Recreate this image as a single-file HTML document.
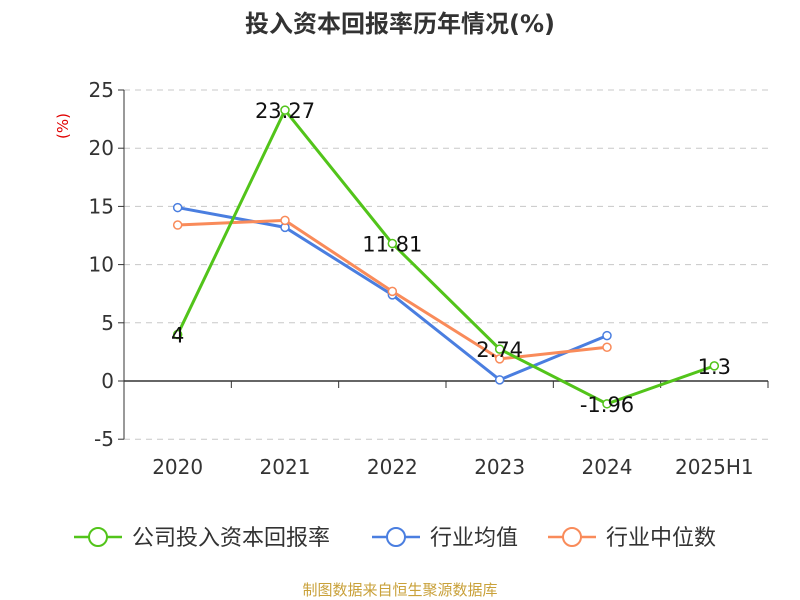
<!DOCTYPE html>
<html><head><meta charset="utf-8"><style>
body{margin:0;background:#fff;}
svg{display:block;font-family:"DejaVu Sans","Noto Sans CJK SC",sans-serif;}
</style></head><body>
<svg id="chart" width="800" height="600">
<text x="400" y="32" text-anchor="middle" font-size="24" font-weight="bold" fill="#333">投入资本回报率历年情况(%)</text>
<text x="68" y="126" text-anchor="middle" font-size="15" fill="#e00000" transform="rotate(-90 68 126)">(%)</text>
<g id="grid"></g><g id="axes"></g><g id="series"></g>
<g>
<g><line x1="74" y1="537" x2="122" y2="537" stroke="#52c41a" stroke-width="2.5"/><circle cx="98" cy="537" r="9" fill="#fff" stroke="#52c41a" stroke-width="2"/><text x="132" y="545" font-size="22" fill="#333">公司投入资本回报率</text></g>
<g><line x1="372" y1="537" x2="420" y2="537" stroke="#4a7ee0" stroke-width="2.5"/><circle cx="396" cy="537" r="9" fill="#fff" stroke="#4a7ee0" stroke-width="2"/><text x="430" y="545" font-size="22" fill="#333">行业均值</text></g>
<g><line x1="548" y1="537" x2="596" y2="537" stroke="#f98b5a" stroke-width="2.5"/><circle cx="572" cy="537" r="9" fill="#fff" stroke="#f98b5a" stroke-width="2"/><text x="606" y="545" font-size="22" fill="#333">行业中位数</text></g>
</g>
<text x="400" y="595" text-anchor="middle" font-size="15" fill="#c9a13a">制图数据来自恒生聚源数据库</text>
</svg>
<script>
const categories=["2020","2021","2022","2023","2024","2025H1"];
const companyValues=[4,23.27,11.81,2.74,-1.96,1.3];
const companyLabels=["4","23.27","11.81","2.74","-1.96","1.3"];
const industryAvg=[14.9,13.2,7.4,0.1,3.9];
const industryMedian=[13.4,13.8,7.7,1.9,2.9];
const yTicks=[-5,0,5,10,15,20,25];
const NS="http://www.w3.org/2000/svg";
const x0=124,x1=768,bw=(x1-x0)/categories.length;
const y=v=>381-v*58.2/5;
const x=i=>x0+bw*(i+0.5);
function mk(p,t,a){const e=document.createElementNS(NS,t);for(const k in a)e.setAttribute(k,a[k]);p.appendChild(e);return e;}
const grid=document.getElementById('grid'),axes=document.getElementById('axes'),ser=document.getElementById('series');
yTicks.forEach(t=>{
 if(t!==0){const g=mk(grid,'line',{x1:x0,x2:x1,y1:y(t),y2:y(t),stroke:'#c8c8c8','stroke-dasharray':'6,5'});
 
 }
 const tk=mk(axes,'line',{x1:x0-6,x2:x0,y1:y(t),y2:y(t),stroke:'#333'});
 
 
 const l=mk(axes,'text',{x:x0-10,y:y(t)+7,'text-anchor':'end','font-size':'20',fill:'#333'});l.textContent=t;
 
 
});
const ya=mk(axes,'line',{x1:x0,x2:x0,y1:y(25),y2:y(-5),stroke:'#333'});


const xa=mk(axes,'line',{x1:x0,x2:x1,y1:y(0),y2:y(0),stroke:'#333','stroke-width':1.5});


categories.forEach((c,i)=>{
 const tk=mk(axes,'line',{x1:x0+bw*(i+1),x2:x0+bw*(i+1),y1:y(0),y2:y(0)+7,stroke:'#333'});
 
 
 const l=mk(axes,'text',{x:x(i),y:474,'text-anchor':'middle','font-size':'20',fill:'#333'});l.textContent=c;
 
 
});
function line(vals,color,name){
 const g=mk(ser,'g',{});
 
 
 mk(g,'polyline',{points:vals.map((v,i)=>x(i)+','+y(v)).join(' '),fill:'none',stroke:color,'stroke-width':3});
 vals.forEach((v,i)=>{const c=mk(g,'circle',{cx:x(i),cy:y(v),r:4,fill:'#fff',stroke:color,'stroke-width':1.5});
 
 });
}
line(industryAvg,'#4a7ee0','industry-avg-line');
line(industryMedian,'#f98b5a','industry-median-line');
line(companyValues,'#52c41a','company-line');
companyValues.forEach((v,i)=>{const l=mk(ser,'text',{x:x(i),y:y(v)+8,'text-anchor':'middle','font-size':'21',fill:'#111'});l.textContent=companyLabels[i];
 
 });
</script>
</body></html>
